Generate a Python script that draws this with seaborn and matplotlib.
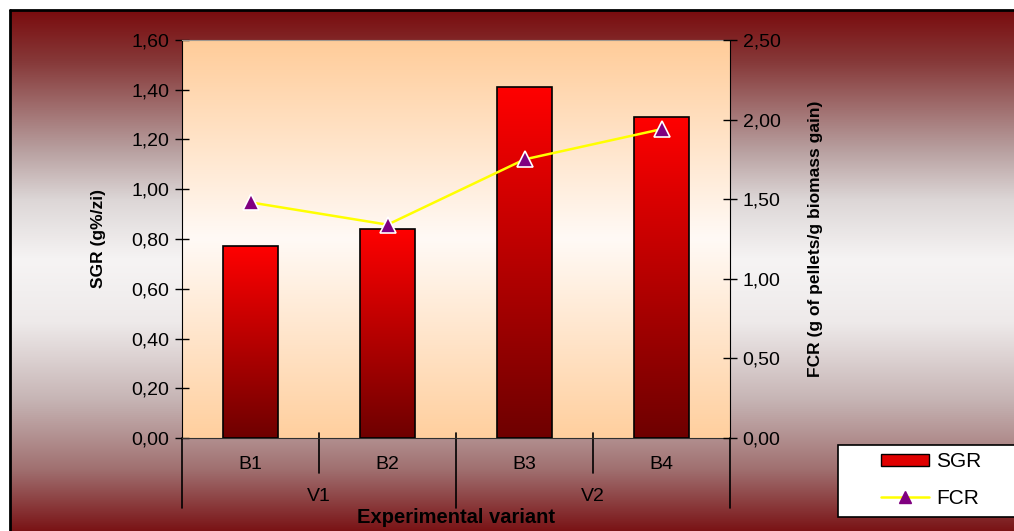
import numpy as np
import pandas as pd
import matplotlib
matplotlib.use("Agg")
import matplotlib.pyplot as plt
import matplotlib.transforms as mtransforms
import seaborn as sns
from matplotlib.colors import LinearSegmentedColormap
from matplotlib.lines import Line2D
from matplotlib.patches import Patch, Rectangle

# data
variants = ["B1", "B2", "B3", "B4"]
groups = ["V1", "V2"]
sgr = [0.77, 0.84, 1.41, 1.29]
fcr = [1.48, 1.34, 1.75, 1.94]

sns.set_style("white")
plt.rcParams["font.family"] = ["Liberation Sans", "DejaVu Sans"]
plt.rcParams["text.color"] = "black"
plt.rcParams["axes.labelcolor"] = "black"
plt.rcParams["xtick.color"] = "black"
plt.rcParams["ytick.color"] = "black"

W, H = 1014, 531
fig = plt.figure(figsize=(W / 100, H / 100), dpi=100)
fig.patch.set_facecolor("white")

# outer background gradient (dark red -> white -> dark red), 0 = bottom
bg = fig.add_axes([0, 0, 1, 1], zorder=-10)
bg_cmap = LinearSegmentedColormap.from_list(
    "bg", [(0, "#7a1416"), (0.117, "#a07070"), (0.25, "#c6b4b4"), (0.4, "#eeeaea"),
           (0.52, "#f6f4f4"), (0.635, "#ddd7d7"), (0.731, "#b8a0a0"),
           (0.827, "#9c6666"), (0.904, "#863838"), (1, "#7a0c0e")])
grad = np.linspace(0, 1, 256).reshape(-1, 1)
bg.imshow(grad, aspect="auto", cmap=bg_cmap, origin="lower",
          extent=[10 / W, 1, 0, 1 - 10 / H])
bg.set_xlim(0, 1)
bg.set_ylim(0, 1)
bg.axis("off")
fig.add_artist(Line2D([10 / W, 1], [1 - 10 / H] * 2, color="black", lw=2, transform=fig.transFigure))
fig.add_artist(Line2D([10 / W] * 2, [0, 1 - 10 / H], color="black", lw=2, transform=fig.transFigure))

# plot area
rect = [182 / W, (H - 438) / H, 548 / W, 398 / H]
pa = fig.add_axes(rect, zorder=-5)
pa_cmap = LinearSegmentedColormap.from_list(
    "pa", [(0, "#ffcf9e"), (0.5, "#fffaf6"), (1, "#ffcc99")])
pa.imshow(grad, aspect="auto", cmap=pa_cmap, origin="lower", extent=[0, 1, 0, 1])
pa.set_xlim(0, 1)
pa.set_ylim(0, 1)
pa.axis("off")

ax = fig.add_axes(rect)
ax.set_facecolor("none")

df = pd.DataFrame({"variant": variants, "SGR": sgr})
sns.barplot(data=df, x="variant", y="SGR", ax=ax, width=0.4, color="white",
            edgecolor="black", linewidth=1.2, zorder=3)

bar_cmap = LinearSegmentedColormap.from_list("bar", ["#6e0000", "#ff0000"])
for p in ax.patches:
    x0, w, h = p.get_x(), p.get_width(), p.get_height()
    p.set_facecolor("none")
    ax.imshow(grad, aspect="auto", cmap=bar_cmap, origin="lower",
              extent=[x0, x0 + w, 0, h], zorder=2)

ax.set_xlim(-0.5, len(variants) - 0.5)
ax.set_ylim(0, 1.6)
ax.set_yticks(np.arange(0, 1.61, 0.2))
ax.set_yticklabels([f"{v:.2f}".replace(".", ",") for v in np.arange(0, 1.61, 0.2)])
ax.tick_params(axis="y", direction="inout", length=10, width=1, labelsize=14, pad=4, left=True)
ax.tick_params(axis="x", length=0, labelsize=14, pad=13)
ax.set_xlabel("")
ax.set_ylabel("SGR (g%/zi)", fontsize=12.5, fontweight="bold", labelpad=18)
ax.spines["top"].set_color("#a09890")
ax.spines["left"].set_color("black")
ax.spines["bottom"].set_color("#303030")
ax.spines["right"].set_visible(False)

# FCR on secondary axis
ax2 = ax.twinx()
ax2.set_facecolor("none")
sns.lineplot(x=np.arange(len(variants)), y=fcr, ax=ax2, color="#ffff00", lw=1.8,
             marker="^", markersize=12, markerfacecolor="#800080",
             markeredgecolor="white", markeredgewidth=1.2, zorder=5)
ax2.set_ylim(0, 2.5)
ax2.set_yticks(np.arange(0, 2.51, 0.5))
ax2.set_yticklabels([f"{v:.2f}".replace(".", ",") for v in np.arange(0, 2.51, 0.5)])
ax2.tick_params(axis="y", direction="inout", length=10, width=1, labelsize=14, pad=4, right=True)
ax2.set_ylabel("FCR (g of pellets/g biomass gain)", fontsize=12.5, fontweight="bold", labelpad=20)
for s in ["top", "left", "bottom"]:
    ax2.spines[s].set_visible(False)
ax2.spines["right"].set_color("black")

# grouped category axis below
tr = mtransforms.blended_transform_factory(ax.transData, ax.transAxes)
bounds = np.arange(len(variants) + 1) - 0.5
for i, b in enumerate(bounds):
    low = -0.176 if i % 2 == 0 else -0.088
    ax.add_line(Line2D([b, b], [0.012 if 0 < i < len(bounds) - 1 else 0, low],
                       color="black", lw=1.2, transform=tr, clip_on=False))
for j, g in enumerate(groups):
    ax.text(2 * j + 0.5, -0.148, g, transform=tr, ha="center", va="center", fontsize=14)
ax.text(0.5, -0.2, "Experimental variant", transform=ax.transAxes, ha="center",
        va="center", fontsize=14.5, fontweight="bold")

# legend
fig.add_artist(Rectangle((838 / W, (H - 517) / H), 0.3, 72 / H, transform=fig.transFigure,
                         facecolor="white", edgecolor="black", lw=1.2))
handles = [Patch(facecolor="#e00000", edgecolor="black", label="SGR"),
           Line2D([], [], color="#ffff00", lw=1.8, marker="^", markersize=8,
                  markerfacecolor="#800080", markeredgecolor="#800080", label="FCR")]
fig.legend(handles=handles, loc="center left", bbox_to_anchor=(862 / W, (H - 480) / H),
           frameon=False, fontsize=15, handlelength=2.3, handleheight=0.5,
           labelspacing=0.85, handletextpad=0.35)

fig.savefig("out.png", dpi=100)
